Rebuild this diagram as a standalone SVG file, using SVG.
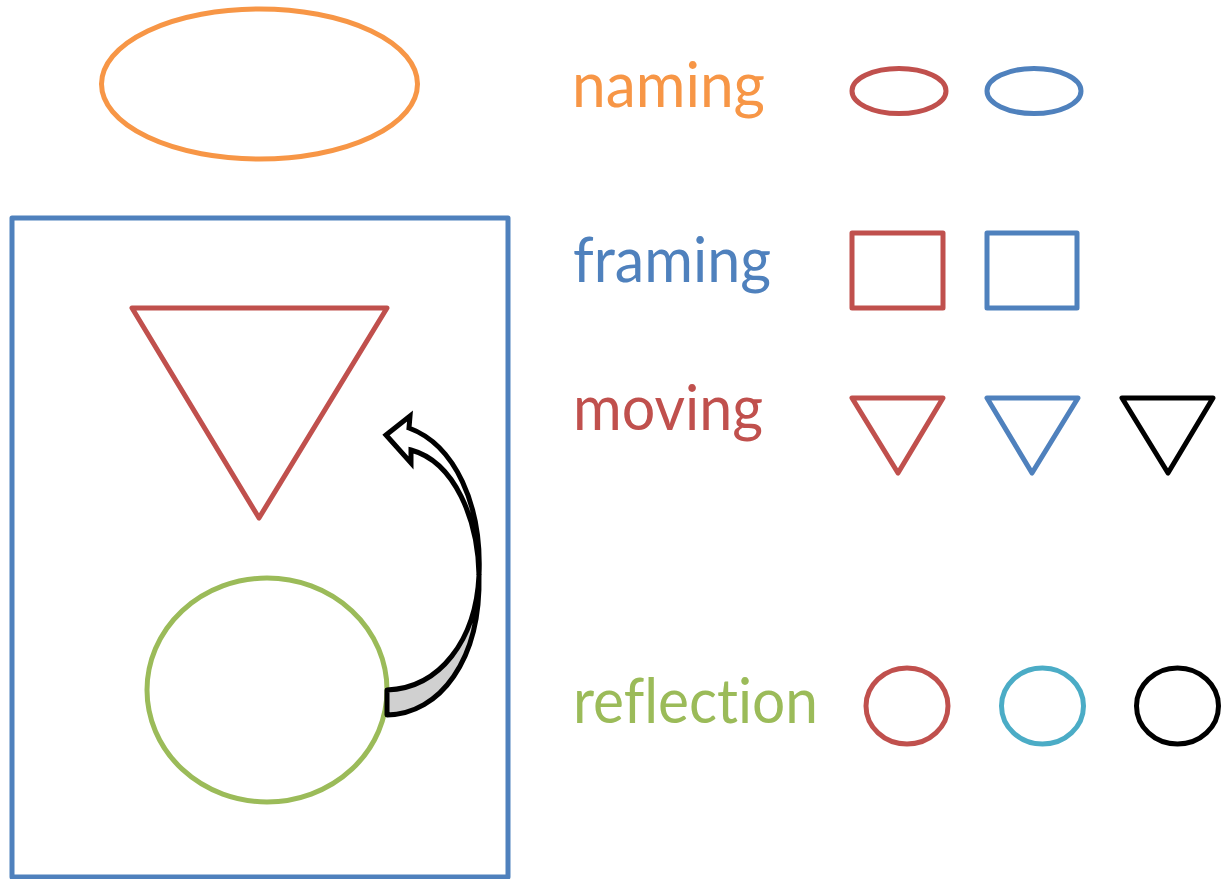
<svg xmlns="http://www.w3.org/2000/svg" width="1227" height="879" viewBox="0 0 1227 879">
<style>
.s{fill:none;stroke-width:5;stroke-linejoin:round}
.or{stroke:#F79646}.bl{stroke:#4F81BD}.rd{stroke:#C0504D}.gr{stroke:#9BBB59}.cy{stroke:#4BACC6}.bk{stroke:#000}
.t{font-family:Lato,"Open Sans",sans-serif;font-size:62px;font-variant-ligatures:none}
</style>
<rect width="1227" height="879" fill="#fff"/>
<g id="naming-ellipse"><ellipse class="s or" cx="259.5" cy="84" rx="158" ry="75"/></g>
<g id="frame"><rect class="s bl" x="12" y="218" width="496" height="659"/></g>
<g id="triangle"><polygon class="s rd" points="132,308 387,308 259,518"/></g>
<g id="circle"><ellipse class="s gr" cx="267" cy="690" rx="120" ry="112"/></g>
<g id="connectors">
<path d="M387,690 C440,688 476,640 479,575 C481,660 440,714 387,715 Z" fill="#d0d0d0" stroke="#000" stroke-width="5" stroke-linejoin="round"/>
<path d="M386,435 L410,416 L409,428 C455,445 482,505 479,575 C478,520 455,462 411,450 L411,463 Z" fill="#fff" stroke="#000" stroke-width="5" stroke-linejoin="miter"/>
</g>
<g id="label-naming"><text class="t" x="572" y="107" fill="#F79646" textLength="193" lengthAdjust="spacingAndGlyphs">naming</text></g>
<g id="label-framing"><text class="t" x="573" y="282" fill="#4F81BD" textLength="198" lengthAdjust="spacingAndGlyphs">framing</text></g>
<g id="label-moving"><text class="t" x="573" y="430" fill="#C0504D" textLength="190" lengthAdjust="spacingAndGlyphs">moving</text></g>
<g id="label-reflection"><text class="t" x="573" y="723" fill="#9BBB59" textLength="245" lengthAdjust="spacingAndGlyphs">reflection</text></g>
<g id="naming-red"><ellipse class="s rd" cx="899" cy="91" rx="47" ry="22.5"/></g>
<g id="naming-blue"><ellipse class="s bl" cx="1034" cy="91" rx="47" ry="22.5"/></g>
<g id="framing-red"><rect class="s rd" x="852" y="233" width="91" height="75"/></g>
<g id="framing-blue"><rect class="s bl" x="987" y="233" width="90" height="75"/></g>
<g id="moving-red"><polygon class="s rd" points="852,398 943,398 898,473"/></g>
<g id="moving-blue"><polygon class="s bl" points="987,398 1078,398 1032,473"/></g>
<g id="moving-black"><polygon class="s bk" points="1122,398 1213,398 1168,473"/></g>
<g id="reflection-red"><ellipse class="s rd" cx="907" cy="706" rx="41" ry="38"/></g>
<g id="reflection-cyan"><ellipse class="s cy" cx="1042.5" cy="706" rx="41" ry="38"/></g>
<g id="reflection-black"><ellipse class="s bk" cx="1177.5" cy="706" rx="41" ry="38"/></g>
</svg>
